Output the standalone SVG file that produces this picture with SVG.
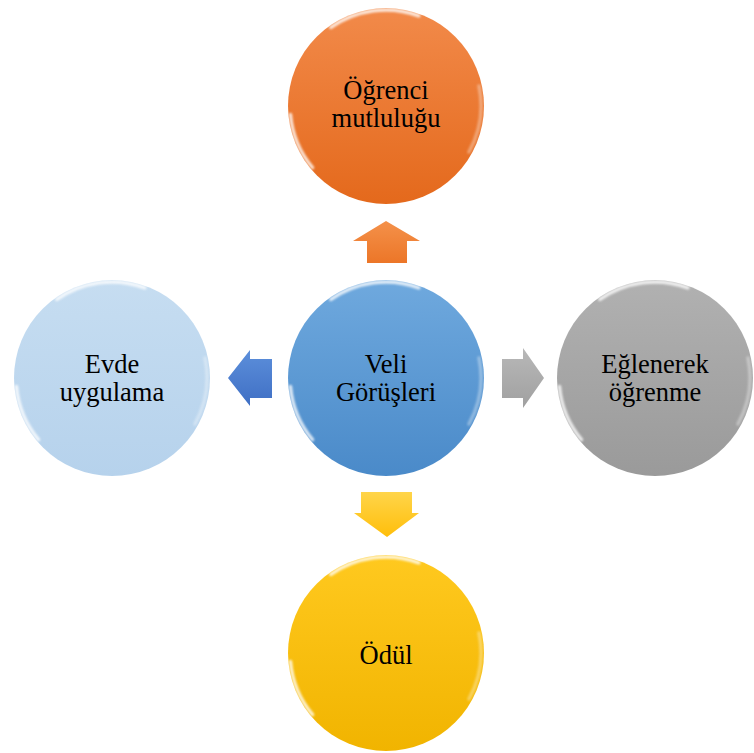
<svg xmlns="http://www.w3.org/2000/svg" width="754" height="753" viewBox="0 0 754 753">
<style>
text{font-family:"Liberation Serif","Times New Roman",serif;font-size:26.5px;fill:#000;text-anchor:middle}
.gloss{fill:none;stroke:#fff;stroke-width:3.5;stroke-linecap:round;opacity:.8;filter:url(#blur)}
</style>
<defs>
<filter id="blur" x="-20%" y="-20%" width="140%" height="140%"><feGaussianBlur stdDeviation="1.2"/></filter>
<linearGradient id="gBlue" x1="0" y1="0" x2="0" y2="1"><stop offset="0" stop-color="#6FA9DE"/><stop offset="1" stop-color="#4A8AC9"/></linearGradient>
<linearGradient id="gOrange" x1="0" y1="0" x2="0" y2="1"><stop offset="0" stop-color="#F28A4A"/><stop offset="1" stop-color="#E4691C"/></linearGradient>
<linearGradient id="gGray" x1="0" y1="0" x2="0" y2="1"><stop offset="0" stop-color="#B1B1B1"/><stop offset="1" stop-color="#9A9A9A"/></linearGradient>
<linearGradient id="gYellow" x1="0" y1="0" x2="0" y2="1"><stop offset="0" stop-color="#FFC91F"/><stop offset="1" stop-color="#F1B400"/></linearGradient>
<linearGradient id="gLight" x1="0" y1="0" x2="0" y2="1"><stop offset="0" stop-color="#C6DDF1"/><stop offset="1" stop-color="#B6D2EC"/></linearGradient>
<linearGradient id="aOrange" x1="0" y1="0" x2="0" y2="1"><stop offset="0" stop-color="#F4914A"/><stop offset="1" stop-color="#EC7628"/></linearGradient>
<linearGradient id="aYellow" x1="0" y1="0" x2="0" y2="1"><stop offset="0" stop-color="#FFD54A"/><stop offset="1" stop-color="#FFBE0A"/></linearGradient>
<linearGradient id="aBlue" x1="0" y1="0" x2="0" y2="1"><stop offset="0" stop-color="#5C8FDB"/><stop offset="1" stop-color="#3F6FC4"/></linearGradient>
<linearGradient id="aGray" x1="0" y1="0" x2="0" y2="1"><stop offset="0" stop-color="#B8B8B8"/><stop offset="1" stop-color="#A0A0A0"/></linearGradient>
<g id="glare">
<path class="gloss" d="M -73.5 61.7 A 96 96 0 0 1 -95.6 8.4"/>
<path class="gloss" d="M -55.1 -78.6 A 96 96 0 0 1 32.8 -90.2"/>
<path class="gloss" style="opacity:.35" d="M 93 -20 A 96 96 0 0 1 83 46"/>
</g>
</defs>

<g id="connectors">
<path d="M386 221 L420 241 L407 241 L407 263 L367 263 L367 241 L353 241 Z" fill="url(#aOrange)"/>
<path d="M361 492 L412 492 L412 513 L419 513 L387 537 L354 513 L361 513 Z" fill="url(#aYellow)"/>
<path d="M228 378 L250 350 L250 359 L272 359 L272 398 L250 398 L250 406 Z" fill="url(#aBlue)"/>
<path d="M502 359 L523 359 L523 348 L544 378 L523 408 L523 398 L502 398 Z" fill="url(#aGray)"/>
</g>

<g id="node-top">
<circle cx="386" cy="106" r="98" fill="url(#gOrange)"/>
<use href="#glare" transform="translate(386 106)"/>
<text x="386" y="99">Öğrenci</text>
<text x="386" y="127">mutluluğu</text>
</g>

<g id="node-center">
<circle cx="386" cy="378" r="98" fill="url(#gBlue)"/>
<use href="#glare" transform="translate(386 378)"/>
<text x="386" y="373">Veli</text>
<text x="386" y="401">Görüşleri</text>
</g>

<g id="node-left">
<circle cx="112" cy="378" r="98" fill="url(#gLight)"/>
<use href="#glare" transform="translate(112 378)"/>
<text x="112" y="373">Evde</text>
<text x="112" y="401">uygulama</text>
</g>

<g id="node-right">
<circle cx="655" cy="378" r="98" fill="url(#gGray)"/>
<use href="#glare" transform="translate(655 378)"/>
<text x="655" y="373">Eğlenerek</text>
<text x="655" y="401">öğrenme</text>
</g>

<g id="node-bottom">
<circle cx="386" cy="653" r="98" fill="url(#gYellow)"/>
<use href="#glare" transform="translate(386 653)"/>
<text x="386" y="664">Ödül</text>
</g>
</svg>
